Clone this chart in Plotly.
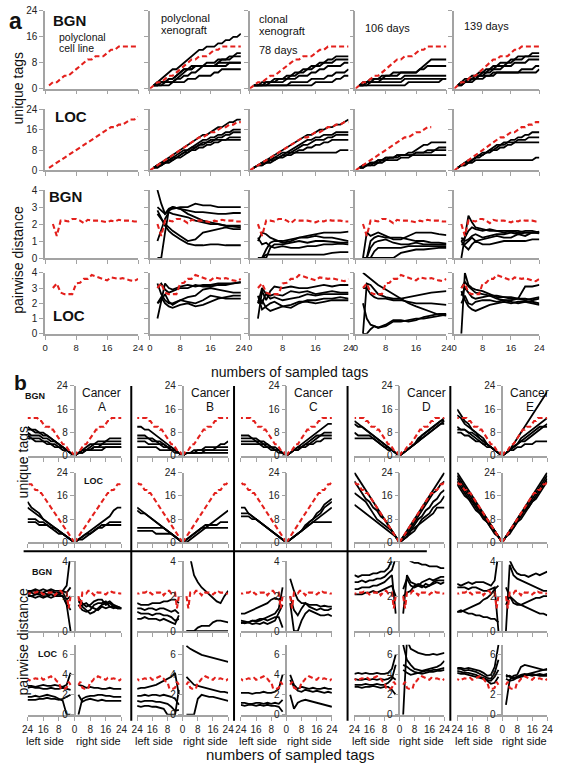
import plotly.graph_objects as go

W, H = 563, 769
FONT = "Liberation Sans, Arial, sans-serif"
GRAY = "#a3a3a3"
RED = "#e3201c"
BLACK = "#000000"

# ---------------- x values / ticks ----------------
TAGS = [1, 2, 3, 4, 5, 6, 7, 8, 9, 10, 11, 12, 13, 14, 15, 16, 17, 18, 19, 20, 21, 22, 23, 24]
TAGS0 = [0, 1, 2, 3, 4, 5, 6, 7, 8, 9, 10, 11, 12, 13, 14, 15, 16, 17, 18, 19, 20, 21, 22, 23, 24]
DIST_X = [2, 3, 4, 5, 6, 7, 8, 9, 10, 11, 12, 13, 14, 15, 16, 17, 18, 19, 20, 21, 22, 23, 24]
DIST_X_A = [2, 3, 4, 5, 6, 8, 10, 12, 14, 16, 18, 20, 22, 24]
TAGS_B = [0, 2, 4, 6, 8, 10, 12, 14, 16, 18, 20, 22, 24]
DIST_X_B = [2, 4, 6, 8, 10, 12, 14, 16, 18, 20, 22, 24]

X_TICKS_A = [0, 8, 16, 24]
X_TICKTEXT_A = ["0", "8", "16", "24"]
X_TICKS_B = [-24, -16, -8, 0, 8, 16, 24]
X_TICKTEXT_B = ["24", "16", "8", "0", "8", "16", "24"]
UNIQ_TICKS = [0, 8, 16, 24]
DIST_TICKS_A = [0, 1, 2, 3, 4]
DIST_TICKS_B_BGN = [0, 2, 4]
DIST_TICKS_B_LOC = [0, 2, 4, 6]
B_CANCERS = ["A", "B", "C", "D", "E"]

# ---------------- reference (polyclonal cell line, red) ----------------
RED_BGN_UNIQ = [0, 1, 2, 2, 3, 4, 4, 5, 6, 7, 8, 9, 9, 10, 10, 10, 11, 12, 12, 13, 13, 13, 13, 13, 13]
RED_LOC_UNIQ = [0, 1, 2, 3, 4, 5, 6, 7, 8, 9, 10, 11, 12, 13, 14, 15, 16, 17, 17, 18, 18, 19, 20, 20, 21]
RED_LOC_UNIQ_XENO = [0, 1, 2, 3, 4, 5, 6, 7, 8, 9, 10, 11, 12, 13, 13, 14, 15, 15, 16, 17, 17, 18, 18, 19, 19]
RED_LOC_106_LAST = 20
RED_BGN_DIST = [2.0, 1.3, 2.2, 2.2, 2.15, 2.3, 2.3, 2.2, 2.05, 2.25, 2.2, 2.2, 2.2, 2.15, 2.1, 2.2, 2.15,
                2.25, 2.2, 2.2, 2.2, 2.15, 2.15]
RED_LOC_DIST = [3.0, 3.3, 2.7, 2.6, 2.6, 2.6, 3.3, 3.35, 3.6, 3.6, 3.85, 3.75, 3.7, 3.6, 3.5, 3.7, 3.65,
                3.6, 3.65, 3.55, 3.5, 3.45, 3.6]

# ---------------- panel a: unique tags, BGN ----------------
A_BGN_U_POLYX = [
    [1, 2, 3, 4, 5, 6, 6, 7, 8, 9, 10, 11, 12, 12, 13, 13, 13, 14, 14, 15, 15, 16, 16, 17],
    [1, 1, 2, 2, 3, 3, 4, 5, 6, 6, 7, 7, 7, 7, 8, 8, 8, 9, 9, 9, 10, 10, 11, 11],
    [1, 1, 1, 2, 2, 2, 3, 4, 5, 6, 6, 7, 7, 7, 7, 7, 7, 8, 9, 9, 9, 10, 10, 10],
    [1, 2, 2, 2, 3, 3, 4, 5, 6, 6, 6, 7, 7, 7, 7, 7, 7, 8, 8, 8, 8, 8, 8, 8],
    [1, 1, 1, 1, 1, 2, 2, 2, 2, 3, 3, 3, 4, 4, 4, 4, 5, 5, 6, 6, 6, 6, 6, 6],
    [1, 1, 2, 2, 2, 2, 3, 3, 4, 4, 5, 5, 6, 7, 7, 7, 7, 7, 7, 7, 8, 8, 8, 8],
]
A_BGN_U_D78 = [
    [1, 1, 2, 2, 2, 3, 3, 3, 4, 4, 5, 5, 6, 6, 7, 7, 8, 8, 9, 9, 10, 10, 10, 10],
    [1, 1, 1, 2, 2, 2, 3, 3, 3, 4, 4, 5, 5, 6, 6, 7, 7, 8, 8, 8, 9, 9, 9, 9],
    [1, 1, 1, 1, 2, 2, 2, 2, 3, 3, 3, 4, 4, 4, 5, 5, 6, 6, 7, 7, 7, 7, 8, 8],
    [1, 1, 1, 1, 1, 1, 1, 1, 1, 2, 2, 2, 2, 2, 3, 3, 3, 3, 4, 4, 5, 5, 5, 6],
    [1, 1, 1, 1, 1, 1, 1, 1, 1, 1, 1, 1, 1, 1, 1, 2, 2, 2, 2, 2, 3, 3, 4, 4],
]
A_BGN_U_D106 = [
    [1, 1, 2, 2, 3, 3, 4, 4, 4, 5, 5, 5, 5, 5, 5, 5, 6, 7, 8, 9, 9, 9, 9, 9],
    [1, 2, 2, 3, 3, 3, 3, 4, 4, 4, 4, 5, 5, 5, 5, 5, 6, 6, 7, 7, 7, 7, 7, 7],
    [1, 1, 1, 2, 2, 2, 3, 3, 3, 3, 3, 3, 4, 4, 4, 4, 4, 4, 4, 4, 4, 4, 4, 4],
    [1, 1, 2, 2, 2, 2, 2, 2, 2, 2, 2, 2, 3, 3, 3, 3, 3, 3, 3, 3, 3, 3, 3, 3],
    [1, 1, 1, 1, 1, 1, 1, 1, 1, 1, 1, 1, 1, 2, 2, 2, 2, 2, 2, 2, 2, 2, 3, 3],
]
A_BGN_U_D139 = [
    [1, 2, 3, 3, 4, 4, 5, 5, 6, 6, 7, 7, 8, 8, 8, 9, 9, 10, 10, 10, 10, 11, 11, 11],
    [1, 2, 2, 3, 3, 4, 4, 5, 5, 6, 6, 7, 7, 7, 8, 8, 9, 9, 9, 10, 10, 10, 10, 10],
    [1, 2, 2, 3, 3, 3, 4, 4, 5, 5, 6, 6, 6, 7, 7, 7, 8, 8, 8, 8, 9, 9, 9, 9],
    [1, 1, 2, 2, 3, 3, 4, 4, 4, 4, 5, 5, 5, 5, 5, 5, 5, 5, 6, 6, 6, 6, 7, 7],
    [1, 1, 2, 2, 2, 3, 3, 3, 4, 4, 4, 5, 5, 5, 5, 5, 5, 5, 5, 5, 5, 5, 5, 6],
]

# ---------------- panel a: unique tags, LOC ----------------
A_LOC_U_POLYX = [
    [1, 2, 3, 4, 5, 6, 7, 8, 9, 10, 11, 12, 13, 14, 14, 15, 16, 17, 17, 18, 19, 19, 20, 20],
    [1, 2, 3, 3, 4, 5, 6, 7, 8, 8, 9, 10, 11, 12, 12, 13, 13, 14, 14, 15, 15, 16, 16, 16],
    [1, 2, 2, 3, 4, 5, 5, 6, 7, 8, 9, 9, 10, 11, 11, 12, 12, 13, 13, 14, 14, 15, 15, 15],
    [1, 2, 2, 3, 4, 4, 5, 6, 7, 7, 8, 9, 10, 10, 11, 11, 12, 12, 12, 12, 13, 13, 13, 13],
    [1, 1, 2, 3, 3, 4, 5, 5, 6, 7, 8, 8, 9, 9, 10, 10, 11, 11, 12, 12, 12, 12, 12, 12],
]
A_LOC_U_D78 = [
    [1, 2, 3, 4, 5, 6, 7, 8, 9, 10, 11, 12, 13, 14, 14, 15, 16, 16, 17, 17, 18, 18, 19, 20],
    [1, 2, 3, 4, 4, 5, 6, 7, 7, 8, 9, 10, 11, 12, 12, 13, 13, 14, 14, 14, 15, 15, 15, 15],
    [1, 2, 3, 3, 4, 5, 5, 6, 7, 7, 8, 9, 10, 10, 11, 12, 12, 12, 13, 13, 14, 14, 14, 14],
    [1, 2, 2, 3, 4, 4, 5, 6, 6, 7, 7, 8, 8, 9, 9, 10, 10, 11, 11, 12, 12, 12, 12, 12],
    [1, 2, 2, 3, 3, 4, 5, 5, 6, 6, 7, 7, 7, 7, 7, 7, 7, 7, 7, 7, 7, 8, 8, 8],
]
A_LOC_U_D106 = [
    [1, 2, 2, 3, 3, 4, 4, 5, 5, 5, 6, 6, 6, 7, 7, 8, 9, 10, 10, 11, 11, 11, 11, 11],
    [1, 1, 2, 2, 3, 4, 4, 5, 5, 5, 5, 6, 6, 6, 6, 7, 7, 7, 8, 8, 8, 9, 9, 9],
    [1, 2, 2, 3, 3, 3, 4, 4, 5, 5, 6, 6, 6, 6, 6, 7, 7, 7, 7, 7, 8, 8, 8, 8],
    [1, 1, 2, 2, 2, 3, 3, 4, 4, 4, 4, 5, 5, 5, 6, 6, 6, 6, 6, 6, 6, 6, 6, 6],
]
A_LOC_U_D139 = [
    [1, 2, 3, 4, 4, 5, 6, 7, 7, 8, 9, 10, 10, 11, 11, 12, 12, 13, 13, 14, 14, 15, 15, 15],
    [1, 2, 3, 3, 4, 5, 6, 6, 7, 8, 8, 9, 10, 10, 11, 11, 11, 12, 12, 12, 13, 13, 13, 13],
    [1, 2, 2, 3, 4, 5, 5, 6, 7, 7, 8, 8, 9, 9, 10, 10, 11, 11, 11, 11, 11, 11, 11, 11],
    [1, 2, 2, 3, 3, 4, 4, 4, 4, 4, 4, 4, 4, 4, 4, 4, 4, 4, 4, 4, 4, 4, 5, 5],
]

# ---------------- panel a: pairwise distance, BGN (x = DIST_X_A) ----------------
A_BGN_D_POLYX = [
    [4.0, 3.2, 2.6, 2.8, 2.9, 3.0, 3.0, 3.2, 3.1, 3.1, 3.0, 3.0, 3.0, 3.0],
    [3.0, 2.8, 2.6, 2.9, 3.0, 2.9, 2.8, 2.7, 2.7, 2.65, 2.6, 2.6, 2.65, 2.65],
    [0.0, 0.0, 1.5, 2.8, 3.0, 2.9, 2.6, 2.4, 2.2, 2.1, 2.0, 1.9, 1.85, 1.8],
    [2.8, 2.3, 1.9, 1.6, 1.4, 1.1, 0.85, 0.75, 0.75, 0.8, 0.8, 0.75, 0.75, 0.75],
    [2.6, 2.3, 2.0, 1.8, 1.6, 1.3, 1.0, 1.1, 1.5, 1.6, 1.7, 1.8, 1.7, 1.7],
    [1.0, 1.7, 2.3, 2.7, 2.6, 2.5, 2.4, 2.2, 2.1, 2.0, 2.0, 1.9, 1.9, 1.9],
]
A_BGN_D_D78 = [
    [1.0, 1.5, 1.4, 1.2, 1.1, 0.9, 1.0, 1.2, 1.3, 1.4, 1.5, 1.5, 1.5, 1.55],
    [0.0, 0.0, 0.5, 0.9, 1.0, 1.0, 1.1, 1.2, 1.2, 1.3, 1.2, 1.2, 1.1, 1.0],
    [0.0, 0.0, 0.0, 0.6, 0.8, 0.8, 0.9, 1.0, 0.9, 1.0, 1.0, 0.95, 0.9, 0.9],
    [1.2, 0.8, 0.9, 0.7, 0.6, 0.7, 0.6, 0.6, 0.7, 0.7, 0.8, 0.8, 0.85, 0.8],
    [0.0, 0.0, 0.2, 0.2, 0.2, 0.2, 0.2, 0.2, 0.2, 0.2, 0.2, 0.3, 0.35, 0.35],
]
A_BGN_D_D106 = [
    [0.0, 1.5, 1.3, 1.4, 1.5, 1.3, 1.1, 1.1, 1.3, 1.5, 1.5, 1.5, 1.4, 1.35],
    [0.0, 0.0, 1.0, 1.2, 1.3, 1.2, 1.2, 1.2, 1.1, 1.0, 1.0, 0.9, 0.9, 0.85],
    [0.0, 0.0, 0.6, 0.9, 1.0, 1.1, 0.9, 0.8, 0.8, 0.9, 0.8, 0.8, 0.8, 0.8],
    [0.0, 0.0, 0.0, 0.4, 0.6, 0.6, 0.6, 0.6, 0.7, 0.7, 0.7, 0.7, 0.7, 0.7],
    [0.0, 0.0, 0.0, 0.0, 0.0, 0.0, 0.0, 0.3, 0.4, 0.5, 0.5, 0.55, 0.6, 0.6],
]
A_BGN_D_D139 = [
    [0.0, 1.2, 2.5, 2.1, 1.8, 1.7, 1.6, 1.6, 1.6, 1.6, 1.5, 1.6, 1.6, 1.5],
    [1.0, 1.2, 1.6, 1.8, 1.7, 1.6, 1.7, 1.6, 1.5, 1.6, 1.6, 1.5, 1.5, 1.55],
    [1.2, 1.0, 1.1, 1.3, 1.4, 1.2, 1.3, 1.4, 1.4, 1.5, 1.4, 1.5, 1.5, 1.5],
    [0.8, 0.8, 1.0, 1.2, 1.0, 1.1, 1.2, 1.3, 1.2, 1.2, 1.4, 1.3, 1.5, 1.45],
    [1.0, 0.7, 0.5, 0.8, 1.0, 0.8, 0.8, 0.9, 1.0, 1.0, 1.0, 1.0, 1.1, 1.1],
]

# ---------------- panel a: pairwise distance, LOC (x = DIST_X_A) ----------------
A_LOC_D_POLYX = [
    [1.0, 2.2, 3.3, 3.0, 2.9, 3.1, 3.2, 3.1, 3.2, 3.2, 3.3, 3.3, 3.3, 3.4],
    [3.0, 3.3, 2.9, 2.7, 2.8, 3.0, 3.0, 3.2, 3.1, 3.1, 3.2, 3.2, 3.3, 3.35],
    [2.0, 2.2, 2.6, 2.1, 1.9, 2.2, 2.4, 2.5, 2.9, 3.0, 2.9, 2.8, 2.7, 2.7],
    [2.0, 2.4, 2.0, 1.8, 1.7, 1.9, 2.0, 1.8, 1.9, 2.1, 2.3, 2.4, 2.5, 2.5],
    [3.3, 2.6, 2.2, 2.0, 2.0, 2.2, 2.1, 2.0, 2.2, 2.5, 2.4, 2.3, 2.3, 2.3],
]
A_LOC_D_D78 = [
    [1.0, 2.8, 2.2, 2.8, 3.1, 3.0, 3.1, 3.0, 3.0, 3.1, 3.2, 3.1, 3.2, 3.2],
    [2.2, 2.0, 2.7, 2.5, 2.6, 2.5, 2.8, 2.7, 2.8, 2.6, 2.7, 2.8, 2.7, 2.7],
    [2.0, 3.0, 2.6, 2.3, 2.4, 2.2, 2.3, 2.4, 2.6, 2.5, 2.6, 2.6, 2.6, 2.6],
    [2.5, 1.6, 1.8, 2.0, 2.1, 1.8, 1.7, 2.0, 2.2, 2.2, 2.3, 2.3, 2.4, 2.3],
    [2.0, 2.2, 1.7, 1.5, 1.6, 1.8, 1.9, 2.1, 2.1, 2.0, 2.1, 2.2, 2.2, 2.2],
]
A_LOC_D_D106 = [
    [4.0, 3.8, 3.6, 3.4, 3.2, 2.9, 2.6, 2.3, 2.0, 1.8, 1.6, 1.4, 1.25, 1.2],
    [0.0, 3.3, 3.2, 2.9, 2.6, 2.4, 2.3, 2.3, 2.4, 2.5, 2.6, 2.7, 2.75, 2.8],
    [3.0, 3.0, 2.6, 2.4, 2.3, 2.3, 2.2, 2.2, 2.1, 2.0, 2.0, 2.0, 1.95, 1.9],
    [2.0, 1.0, 0.6, 0.5, 0.4, 0.5, 0.8, 0.8, 0.9, 1.0, 1.0, 1.1, 1.2, 1.25],
    [0.0, 0.0, 0.3, 0.5, 0.4, 0.6, 0.9, 0.9, 0.8, 0.9, 1.1, 1.2, 1.3, 1.3],
]
A_LOC_D_D139 = [
    [0.0, 4.0, 3.2, 3.0, 2.9, 2.8, 2.6, 2.4, 2.4, 2.3, 2.3, 3.1, 3.1, 3.2],
    [3.0, 3.4, 3.1, 2.9, 2.7, 2.6, 2.5, 2.5, 2.4, 2.4, 2.3, 2.2, 2.3, 2.4],
    [2.5, 3.0, 2.7, 2.4, 2.3, 2.4, 2.5, 2.3, 2.2, 2.2, 2.3, 2.3, 2.2, 2.3],
    [2.0, 2.5, 2.0, 1.9, 2.1, 2.2, 2.2, 2.1, 2.2, 2.1, 2.0, 2.1, 2.1, 2.0],
    [2.8, 2.2, 1.8, 1.6, 1.5, 1.7, 1.9, 2.0, 2.1, 2.0, 2.1, 2.1, 2.0, 1.9],
]

# ---------------- panel b: unique tags, BGN (x = TAGS_B) ----------------
B_BGN_U_A_LEFT = [[0, 1, 2, 3, 4, 5, 6, 7, 8, 8, 9, 9, 10], [0, 1, 2, 3, 4, 5, 6, 7, 7, 8, 8, 9, 9],
                  [0, 1, 2, 3, 4, 5, 5, 6, 6, 7, 7, 7, 8], [0, 1, 2, 3, 3, 4, 4, 5, 5, 6, 6, 6, 7],
                  [0, 1, 2, 2, 3, 3, 4, 4, 5, 5, 5, 6, 6]]
B_BGN_U_A_RIGHT = [[0, 1, 2, 3, 4, 4, 5, 5, 5, 6, 6, 6, 6], [0, 1, 2, 2, 3, 4, 4, 4, 5, 5, 5, 5, 5],
                   [0, 1, 2, 2, 2, 3, 3, 4, 4, 4, 4, 4, 4], [0, 1, 1, 2, 2, 3, 3, 3, 3, 3, 3, 3, 3],
                   [0, 1, 1, 2, 2, 2, 2, 2, 3, 3, 3, 3, 3]]
B_BGN_U_B_LEFT = [[0, 1, 2, 3, 4, 5, 6, 7, 8, 9, 9, 10, 10], [0, 1, 2, 3, 3, 4, 5, 5, 6, 6, 7, 7, 7],
                  [0, 1, 2, 2, 3, 4, 4, 5, 5, 6, 6, 6, 6], [0, 1, 2, 2, 3, 3, 4, 4, 4, 4, 5, 5, 5],
                  [0, 1, 1, 2, 2, 2, 2, 3, 3, 3, 3, 3, 3]]
B_BGN_U_B_RIGHT = [[0, 1, 1, 2, 2, 2, 3, 3, 3, 3, 4, 4, 5], [0, 1, 1, 1, 2, 2, 2, 2, 2, 3, 3, 3, 3],
                   [0, 1, 1, 1, 1, 1, 1, 1, 1, 1, 1, 1, 1], [0, 1, 1, 1, 1, 1, 2, 2, 2, 2, 2, 2, 2]]
B_BGN_U_C_LEFT = [[0, 1, 2, 3, 3, 4, 5, 5, 6, 6, 7, 7, 7], [0, 1, 2, 2, 3, 4, 4, 5, 5, 6, 6, 6, 6],
                  [0, 1, 2, 2, 3, 3, 4, 4, 5, 5, 5, 5, 5], [0, 1, 1, 2, 2, 3, 3, 4, 4, 4, 4, 4, 4]]
B_BGN_U_C_RIGHT = [[0, 1, 2, 3, 4, 5, 6, 7, 8, 9, 10, 11, 11], [0, 1, 2, 3, 3, 4, 5, 6, 7, 7, 8, 8, 8],
                   [0, 1, 2, 2, 3, 4, 4, 5, 6, 7, 7, 7, 7], [0, 1, 2, 2, 3, 3, 4, 4, 5, 5, 6, 6, 6]]
B_BGN_U_D_LEFT = [[0, 1, 2, 3, 4, 5, 6, 7, 8, 9, 10, 11, 12], [0, 1, 2, 3, 4, 5, 6, 7, 8, 9, 10, 10, 11],
                  [0, 1, 2, 3, 3, 4, 5, 6, 7, 7, 7, 7, 8], [0, 1, 2, 2, 3, 4, 5, 6, 6, 6, 6, 6, 6]]
B_BGN_U_D_RIGHT = [[0, 1, 2, 3, 4, 6, 7, 8, 9, 10, 11, 12, 13], [0, 1, 2, 3, 4, 5, 7, 8, 9, 10, 11, 12, 12],
                   [0, 1, 2, 3, 4, 5, 6, 7, 8, 9, 10, 11, 12], [0, 1, 2, 3, 4, 5, 6, 7, 8, 9, 10, 11, 11]]
B_BGN_U_E_LEFT = [[0, 1, 2, 3, 4, 6, 7, 8, 9, 11, 12, 14, 16], [0, 1, 2, 3, 4, 5, 6, 8, 9, 10, 11, 13, 14],
                  [0, 1, 2, 3, 4, 5, 6, 7, 8, 8, 9, 9, 10], [0, 1, 2, 3, 4, 4, 5, 6, 7, 8, 9, 9, 9],
                  [0, 1, 2, 3, 3, 4, 5, 5, 6, 7, 7, 8, 8]]
B_BGN_U_E_RIGHT = [[0, 1, 2, 4, 6, 8, 10, 12, 14, 16, 18, 20, 22], [0, 1, 2, 3, 4, 6, 7, 8, 9, 10, 11, 12, 13],
                   [0, 1, 2, 3, 4, 5, 6, 7, 8, 9, 10, 10, 11], [0, 1, 2, 3, 4, 5, 5, 6, 7, 8, 9, 10, 10],
                   [0, 1, 2, 2, 3, 3, 4, 4, 4, 5, 5, 5, 5]]

# ---------------- panel b: unique tags, LOC (x = TAGS_B) ----------------
B_LOC_U_A_LEFT = [[0, 1, 2, 3, 4, 5, 6, 7, 8, 10, 11, 12, 14], [0, 1, 2, 3, 4, 5, 6, 7, 8, 9, 10, 11, 12],
                  [0, 1, 2, 3, 4, 5, 5, 6, 7, 7, 8, 8, 8], [0, 1, 2, 3, 3, 4, 5, 6, 6, 6, 7, 7, 7]]
B_LOC_U_A_RIGHT = [[0, 1, 2, 3, 4, 5, 6, 7, 8, 9, 11, 12, 12], [0, 1, 2, 3, 3, 4, 5, 5, 6, 7, 7, 7, 7],
                   [0, 1, 1, 2, 3, 4, 5, 6, 6, 6, 6, 6, 6]]
B_LOC_U_B_LEFT = [[0, 1, 2, 3, 4, 5, 6, 7, 8, 9, 10, 11, 12], [0, 1, 2, 3, 4, 5, 6, 7, 8, 9, 10, 10, 11],
                  [0, 1, 2, 3, 4, 5, 5, 5, 5, 5, 5, 5, 5], [0, 1, 2, 3, 3, 3, 3, 3, 4, 4, 4, 4, 4]]
B_LOC_U_B_RIGHT = [[0, 0, 1, 2, 3, 4, 5, 6, 7, 8, 9, 10, 11], [0, 1, 2, 3, 4, 5, 6, 6, 6, 6, 7, 7, 7],
                   [0, 1, 2, 3, 4, 5, 5, 5, 5, 5, 5, 5, 5]]
B_LOC_U_C_LEFT = [[0, 1, 2, 3, 4, 5, 6, 7, 8, 9, 10, 12, 12], [0, 1, 2, 3, 4, 5, 6, 7, 8, 9, 10, 10, 10],
                  [0, 1, 2, 3, 4, 5, 6, 7, 8, 8, 9, 9, 9]]
B_LOC_U_C_RIGHT = [[0, 1, 2, 3, 4, 6, 7, 8, 10, 11, 13, 14, 15], [0, 1, 2, 3, 4, 5, 7, 8, 9, 10, 12, 13, 14],
                   [0, 1, 2, 3, 4, 5, 6, 7, 8, 9, 10, 11, 12], [0, 1, 2, 3, 4, 5, 6, 7, 7, 7, 7, 7, 7]]
B_LOC_U_D_LEFT = [[0, 2, 4, 6, 8, 10, 12, 14, 16, 18, 20, 22, 24], [0, 2, 4, 6, 8, 9, 11, 12, 14, 15, 17, 19, 21],
                  [0, 2, 4, 5, 6, 7, 8, 10, 12, 14, 15, 16, 17], [0, 2, 3, 4, 5, 6, 7, 8, 9, 10, 11, 12, 13]]
B_LOC_U_D_RIGHT = [[0, 2, 4, 6, 8, 10, 12, 14, 16, 18, 20, 22, 24], [0, 2, 3, 5, 7, 9, 11, 13, 15, 17, 18, 20, 21],
                   [0, 1, 2, 4, 6, 8, 9, 11, 12, 14, 15, 17, 18], [0, 1, 2, 4, 5, 6, 8, 9, 10, 12, 13, 14, 16],
                   [0, 1, 2, 3, 4, 6, 7, 8, 9, 10, 12, 12, 12]]
B_LOC_U_E_LEFT = [[0, 2, 4, 6, 8, 10, 12, 14, 16, 18, 20, 22, 24], [0, 2, 4, 6, 8, 10, 11, 13, 15, 17, 19, 21, 23],
                  [0, 2, 4, 6, 7, 9, 11, 13, 14, 16, 18, 20, 22], [0, 2, 4, 5, 7, 9, 10, 12, 14, 15, 17, 19, 21],
                  [0, 2, 3, 5, 7, 8, 10, 11, 13, 15, 16, 18, 20]]
B_LOC_U_E_RIGHT = [[0, 2, 4, 6, 8, 10, 12, 14, 16, 18, 20, 22, 24], [0, 2, 4, 6, 8, 10, 11, 13, 15, 17, 19, 21, 23],
                   [0, 2, 4, 5, 7, 9, 11, 12, 14, 16, 18, 20, 22], [0, 2, 3, 5, 7, 8, 10, 12, 14, 15, 17, 19, 21]]

# ---------------- panel b: pairwise distance, BGN (x = DIST_X_B) ----------------
B_BGN_D_A_LEFT = [[4.5, 2.6, 2.3, 2.3, 2.3, 2.4, 2.3, 2.4, 2.3, 2.4, 2.3, 2.3],
                  [0.0, 1.5, 2.0, 2.1, 2.2, 2.2, 2.1, 2.2, 2.2, 2.1, 2.2, 2.2],
                  [1.2, 1.6, 2.0, 2.0, 2.0, 2.1, 2.0, 2.0, 2.1, 2.1, 2.0, 2.1],
                  [2.0, 1.8, 2.2, 2.1, 2.0, 1.9, 2.0, 1.9, 2.0, 1.9, 2.0, 2.0],
                  [2.5, 2.2, 2.3, 2.2, 2.2, 2.3, 2.3, 2.2, 2.2, 2.3, 2.3, 2.2]]
B_BGN_D_A_RIGHT = [[1.9, 1.6, 1.4, 1.5, 1.7, 1.8, 1.8, 1.5, 1.6, 1.4, 1.3, 1.3],
                   [1.5, 1.2, 1.1, 1.2, 1.5, 1.6, 1.6, 1.7, 1.4, 1.4, 1.3, 1.3],
                   [1.8, 1.4, 1.2, 1.0, 1.1, 1.3, 1.5, 1.6, 1.7, 1.5, 1.4, 1.3],
                   [1.7, 1.5, 1.6, 1.4, 1.3, 1.2, 1.4, 1.3, 1.4, 1.3, 1.4, 1.3]]
B_BGN_D_B_LEFT = [[1.6, 1.8, 1.8, 1.7, 1.7, 1.6, 1.6, 1.6, 1.5, 1.5, 1.5, 1.6],
                  [1.0, 1.2, 1.1, 1.2, 1.3, 1.3, 1.2, 1.3, 1.3, 1.2, 1.3, 1.3],
                  [0.7, 0.6, 0.8, 0.9, 0.9, 1.0, 1.0, 0.9, 1.0, 1.0, 1.0, 1.1],
                  [0.9, 0.4, 0.5, 0.6, 0.7, 0.6, 0.7, 0.7, 0.7, 0.8, 0.7, 0.7]]
B_BGN_D_B_RIGHT = [[6.0, 4.2, 3.2, 2.8, 2.5, 2.3, 2.1, 1.9, 1.7, 1.6, 2.0, 2.3],
                   [0.0, 0.0, 0.0, 0.2, 0.3, 0.3, 0.3, 0.5, 0.6, 0.6, 0.55, 0.5],
                   [0.0, 0.0, 0.0, 0.0, 0.0, 0.0, 0.0, 0.0, 0.0, 0.0, 0.0, 0.0]]
B_BGN_D_C_LEFT = [[2.0, 1.8, 1.9, 1.8, 1.6, 1.5, 1.4, 1.3, 1.2, 1.1, 1.0, 1.0],
                  [2.5, 1.3, 1.0, 0.9, 0.8, 0.7, 0.7, 0.6, 0.6, 0.5, 0.55, 0.6],
                  [1.5, 1.0, 0.6, 0.5, 0.4, 0.5, 0.4, 0.45, 0.4, 0.5, 0.45, 0.5],
                  [0.2, 0.8, 0.8, 0.7, 0.6, 0.7, 0.6, 0.55, 0.6, 0.5, 0.5, 0.45]]
B_BGN_D_C_RIGHT = [[3.0, 2.3, 1.8, 1.6, 1.6, 1.5, 1.5, 1.5, 1.4, 1.45, 1.4, 1.4],
                   [1.6, 0.0, 0.0, 0.6, 1.0, 1.2, 1.1, 1.0, 0.9, 0.9, 0.95, 0.85],
                   [2.0, 1.2, 0.9, 1.3, 1.6, 1.4, 1.3, 1.2, 1.3, 1.2, 1.2, 1.3]]
B_BGN_D_D_LEFT = [[4.5, 4.0, 3.6, 3.4, 3.4, 3.3, 3.3, 3.2, 3.2, 3.2, 3.1, 3.2],
                  [4.2, 3.5, 3.3, 3.1, 3.0, 3.0, 2.9, 2.9, 2.8, 2.9, 2.8, 2.8],
                  [1.0, 3.2, 3.0, 2.8, 2.7, 2.6, 2.6, 2.5, 2.5, 2.5, 2.4, 2.4],
                  [2.0, 2.6, 2.5, 2.4, 2.3, 2.2, 2.3, 2.2, 2.2, 2.1, 2.1, 2.1]]
B_BGN_D_D_RIGHT = [[4.5, 4.2, 4.0, 3.9, 3.9, 3.8, 3.8, 3.7, 3.7, 3.7, 3.6, 3.6],
                   [1.0, 3.2, 2.8, 2.7, 2.6, 2.8, 2.9, 3.0, 2.9, 3.0, 3.1, 3.1],
                   [2.4, 3.0, 2.6, 2.5, 2.6, 2.5, 2.7, 2.6, 2.8, 2.9, 2.9, 2.9],
                   [2.0, 2.2, 2.3, 2.6, 2.7, 2.6, 2.5, 2.6, 2.7, 2.8, 2.7, 2.8]]
B_BGN_D_E_LEFT = [[4.5, 2.9, 2.6, 2.7, 2.8, 2.8, 2.8, 2.7, 2.8, 2.7, 2.6, 2.7],
                  [0.0, 2.5, 2.4, 2.3, 2.3, 2.4, 2.5, 2.5, 2.4, 2.5, 2.5, 2.5],
                  [2.6, 2.4, 2.1, 1.9, 1.8, 1.6, 1.5, 1.4, 1.3, 1.2, 1.1, 1.1],
                  [0.5, 0.7, 0.7, 0.8, 0.8, 0.9, 0.9, 1.0, 1.0, 1.1, 1.2, 1.1]]
B_BGN_D_E_RIGHT = [[4.5, 4.0, 3.6, 3.3, 3.2, 3.2, 3.1, 3.2, 3.3, 3.2, 3.3, 3.4],
                   [0.0, 3.8, 3.2, 3.0, 2.9, 2.8, 2.7, 2.6, 2.5, 2.4, 2.3, 2.3],
                   [1.5, 2.0, 1.6, 1.5, 1.5, 1.6, 1.7, 1.8, 1.9, 1.9, 2.0, 2.0],
                   [2.5, 2.0, 1.8, 1.6, 1.5, 1.4, 1.3, 1.2, 1.1, 1.0, 1.0, 0.9]]

# ---------------- panel b: pairwise distance, LOC (x = DIST_X_B) ----------------
B_LOC_D_A_LEFT = [[4.2, 3.0, 2.8, 2.9, 3.0, 2.9, 2.9, 3.0, 2.9, 2.8, 2.9, 2.9],
                  [2.5, 2.6, 2.7, 2.6, 2.6, 2.7, 2.6, 2.6, 2.7, 2.7, 2.8, 2.7],
                  [0.0, 0.0, 1.4, 1.6, 1.8, 1.9, 2.0, 1.9, 1.8, 1.9, 1.8, 1.8],
                  [2.0, 1.8, 1.6, 1.5, 1.6, 1.6, 1.7, 1.6, 1.6, 1.5, 1.5, 1.5]]
B_LOC_D_A_RIGHT = [[3.0, 2.9, 2.7, 2.8, 2.7, 2.7, 2.6, 2.6, 2.7, 2.6, 2.6, 2.6],
                   [0.0, 1.6, 1.8, 1.9, 1.9, 2.0, 2.0, 1.9, 1.9, 1.8, 1.8, 1.8],
                   [2.0, 1.3, 1.5, 1.6, 1.5, 1.4, 1.5, 1.4, 1.4, 1.4, 1.4, 1.4]]
B_LOC_D_B_LEFT = [[2.0, 4.2, 3.8, 3.6, 3.4, 3.2, 3.0, 2.9, 2.8, 2.7, 2.7, 2.6],
                  [1.0, 1.6, 1.8, 1.9, 2.0, 1.9, 2.0, 2.0, 1.9, 2.0, 1.9, 1.9],
                  [0.5, 0.4, 0.8, 1.1, 1.2, 1.3, 1.3, 1.4, 1.4, 1.4, 1.3, 1.4],
                  [2.5, 0.0, 0.0, 0.0, 0.6, 0.7, 0.8, 0.8, 0.9, 0.9, 0.8, 0.9]]
B_LOC_D_B_RIGHT = [[6.9, 6.6, 6.4, 6.2, 6.0, 5.9, 5.8, 5.7, 5.6, 5.5, 5.4, 5.3],
                   [3.8, 3.4, 3.0, 2.9, 2.8, 2.7, 2.6, 2.5, 2.4, 2.3, 2.3, 2.2],
                   [0.0, 0.0, 0.0, 1.6, 2.0, 1.9, 1.8, 1.8, 1.7, 1.6, 1.5, 1.4]]
B_LOC_D_C_LEFT = [[4.0, 2.6, 2.3, 2.2, 2.2, 2.3, 2.2, 2.2, 2.1, 2.2, 2.2, 2.2],
                  [1.5, 1.1, 1.2, 1.1, 1.2, 1.1, 1.2, 1.2, 1.1, 1.1, 1.2, 1.2],
                  [0.3, 0.8, 0.9, 0.9, 1.0, 0.9, 1.0, 0.9, 1.0, 1.0, 0.9, 1.0]]
B_LOC_D_C_RIGHT = [[4.0, 3.0, 2.6, 2.8, 2.7, 2.6, 2.7, 2.6, 2.6, 2.7, 2.6, 2.6],
                   [3.5, 2.8, 2.4, 2.3, 2.5, 2.4, 2.3, 2.4, 2.3, 2.2, 2.3, 2.2],
                   [2.0, 0.6, 1.2, 1.4, 1.5, 1.4, 1.3, 1.2, 1.1, 1.0, 0.9, 0.8]]
B_LOC_D_D_LEFT = [[6.0, 4.6, 4.2, 4.1, 4.1, 4.2, 4.1, 4.1, 4.2, 4.1, 4.2, 4.1],
                  [5.0, 3.6, 3.2, 3.0, 3.0, 3.1, 3.0, 3.0, 3.1, 3.0, 3.0, 3.0],
                  [2.0, 2.5, 2.8, 2.8, 2.7, 2.8, 2.9, 2.8, 2.8, 2.7, 2.8, 2.8],
                  [3.5, 3.8, 3.6, 3.5, 3.6, 3.5, 3.6, 3.5, 3.6, 3.5, 3.5, 3.6]]
B_LOC_D_D_RIGHT = [[0.0, 7.5, 6.6, 6.4, 6.2, 6.1, 6.0, 6.0, 6.1, 6.0, 6.1, 6.2],
                   [7.0, 5.5, 5.0, 4.6, 4.5, 4.4, 4.5, 4.6, 4.7, 4.8, 5.0, 5.4],
                   [5.0, 4.8, 4.5, 4.3, 4.2, 4.3, 4.4, 4.4, 4.5, 4.5, 4.6, 4.7],
                   [4.5, 4.2, 4.0, 4.1, 4.2, 4.1, 4.2, 4.3, 4.3, 4.4, 4.4, 4.5]]
B_LOC_D_E_LEFT = [[7.0, 4.8, 4.0, 3.9, 4.2, 4.4, 4.5, 4.6, 4.7, 4.6, 4.7, 4.7],
                  [5.5, 4.2, 3.6, 3.7, 3.9, 4.1, 4.3, 4.4, 4.5, 4.4, 4.6, 4.6],
                  [4.5, 3.8, 3.4, 3.5, 3.7, 3.8, 4.0, 4.1, 4.2, 4.2, 4.3, 4.4],
                  [3.8, 3.2, 3.1, 3.4, 3.6, 3.7, 3.8, 3.9, 4.0, 4.1, 4.1, 4.2]]
B_LOC_D_E_RIGHT = [[1.0, 3.5, 3.9, 4.0, 4.8, 5.0, 4.9, 4.8, 4.7, 4.6, 4.5, 4.6],
                   [3.8, 3.9, 3.7, 3.8, 3.9, 4.0, 4.1, 4.2, 4.3, 4.4, 4.5, 4.5],
                   [4.0, 3.8, 3.6, 3.8, 4.0, 4.1, 4.0, 4.1, 4.0, 4.1, 4.0, 4.1],
                   [3.6, 3.4, 3.5, 3.7, 3.8, 3.9, 4.0, 3.9, 4.0, 3.9, 3.9, 3.9]]

# ======================================================================
fig = go.Figure()
layout = {}
n_axes = [0]


def add_axes(xdom, ydom, xrange, yrange, xkw, ykw, y_free_at=None):
    n_axes[0] += 1
    s = "" if n_axes[0] == 1 else str(n_axes[0])
    base = dict(showgrid=False, zeroline=False, showline=True, linecolor=GRAY, linewidth=1.5,
                ticks="outside", ticklen=4, tickwidth=1.3, tickcolor=GRAY,
                tickfont=dict(size=10, color="#222", family=FONT), fixedrange=True)
    xa = dict(base, domain=[xdom[0] / W, xdom[1] / W], range=xrange, anchor="y" + s)
    xa.update(xkw)
    ya = dict(base, domain=[1 - ydom[1] / H, 1 - ydom[0] / H], range=yrange)
    if y_free_at is None:
        ya["anchor"] = "x" + s
    else:
        ya["anchor"] = "free"
        ya["position"] = y_free_at / W
    ya.update(ykw)
    layout["xaxis" + s] = xa
    layout["yaxis" + s] = ya
    return "x" + s, "y" + s


def line(xa, ya, xs, ys, red=False):
    fig.add_trace(go.Scatter(
        x=xs, y=ys, xaxis=xa, yaxis=ya, mode="lines", showlegend=False, hoverinfo="skip",
        line=dict(color=RED if red else BLACK, width=2.1 if red else 1.8,
                  dash="5px,3px" if red else "solid")))


# ---------------- panel a ----------------
A_COLS = [(40, 135), (147, 240), (249, 350), (357, 450), (458, 545)]
A_ROWS = [(5, 84), (105, 167), (187, 256), (271, 333)]

a_blacks = [
    [None, A_BGN_U_POLYX, A_BGN_U_D78, A_BGN_U_D106, A_BGN_U_D139],
    [None, A_LOC_U_POLYX, A_LOC_U_D78, A_LOC_U_D106, A_LOC_U_D139],
    [None, A_BGN_D_POLYX, A_BGN_D_D78, A_BGN_D_D106, A_BGN_D_D139],
    [None, A_LOC_D_POLYX, A_LOC_D_D78, A_LOC_D_D106, A_LOC_D_D139],
]

for r in range(4):
    for c in range(5):
        is_uniq = r < 2
        yr = [0, 24] if is_uniq else [0, 4]
        yt = UNIQ_TICKS if is_uniq else DIST_TICKS_A
        xa, ya = add_axes(A_COLS[c], A_ROWS[r], [0, 24], yr,
                          dict(tickvals=X_TICKS_A, ticktext=X_TICKTEXT_A, showticklabels=(r == 3),
                               tickfont=dict(size=9.5, color="#222", family=FONT)),
                          dict(tickvals=yt, showticklabels=(c == 0)))
        if c > 0:
            xs_black = TAGS if is_uniq else DIST_X_A
            for ys in a_blacks[r][c]:
                line(xa, ya, xs_black, ys)
        if r == 0:
            if c == 0:
                line(xa, ya, TAGS, RED_BGN_UNIQ[1:], red=True)
            else:
                line(xa, ya, TAGS0, RED_BGN_UNIQ, red=True)
        elif r == 1:
            if c == 0:
                line(xa, ya, TAGS, RED_LOC_UNIQ[1:], red=True)
            elif c == 3:
                line(xa, ya, TAGS0[:RED_LOC_106_LAST + 1], RED_LOC_UNIQ_XENO[:RED_LOC_106_LAST + 1], red=True)
            else:
                line(xa, ya, TAGS0, RED_LOC_UNIQ_XENO, red=True)
        elif r == 2:
            line(xa, ya, DIST_X, RED_BGN_DIST, red=True)
        else:
            line(xa, ya, DIST_X, RED_LOC_DIST, red=True)

# ---------------- panel b ----------------
B_COLS = [(22, 118), (134, 227), (240, 333), (356, 448), (461, 553)]
B_ROWS = [(386, 457), (474, 545), (564, 635), (649, 720)]

b_data = [
    [(B_BGN_U_A_LEFT, B_BGN_U_A_RIGHT), (B_BGN_U_B_LEFT, B_BGN_U_B_RIGHT), (B_BGN_U_C_LEFT, B_BGN_U_C_RIGHT),
     (B_BGN_U_D_LEFT, B_BGN_U_D_RIGHT), (B_BGN_U_E_LEFT, B_BGN_U_E_RIGHT)],
    [(B_LOC_U_A_LEFT, B_LOC_U_A_RIGHT), (B_LOC_U_B_LEFT, B_LOC_U_B_RIGHT), (B_LOC_U_C_LEFT, B_LOC_U_C_RIGHT),
     (B_LOC_U_D_LEFT, B_LOC_U_D_RIGHT), (B_LOC_U_E_LEFT, B_LOC_U_E_RIGHT)],
    [(B_BGN_D_A_LEFT, B_BGN_D_A_RIGHT), (B_BGN_D_B_LEFT, B_BGN_D_B_RIGHT), (B_BGN_D_C_LEFT, B_BGN_D_C_RIGHT),
     (B_BGN_D_D_LEFT, B_BGN_D_D_RIGHT), (B_BGN_D_E_LEFT, B_BGN_D_E_RIGHT)],
    [(B_LOC_D_A_LEFT, B_LOC_D_A_RIGHT), (B_LOC_D_B_LEFT, B_LOC_D_B_RIGHT), (B_LOC_D_C_LEFT, B_LOC_D_C_RIGHT),
     (B_LOC_D_D_LEFT, B_LOC_D_D_RIGHT), (B_LOC_D_E_LEFT, B_LOC_D_E_RIGHT)],
]
b_reds = [(TAGS0, RED_BGN_UNIQ), (TAGS0, RED_LOC_UNIQ), (DIST_X, RED_BGN_DIST), (DIST_X, RED_LOC_DIST)]
b_yr = [[0, 24], [0, 24], [0, 4], [0, 7]]
b_yt = [UNIQ_TICKS, UNIQ_TICKS, DIST_TICKS_B_BGN, DIST_TICKS_B_LOC]

for r in range(4):
    for c in range(5):
        x0, x1 = B_COLS[c]
        center = (x0 + x1) / 2
        xa, ya = add_axes(B_COLS[c], B_ROWS[r], [-24, 24], b_yr[r],
                          dict(tickvals=X_TICKS_B, ticktext=X_TICKTEXT_B, showticklabels=(r == 3)),
                          dict(tickvals=b_yt[r]), y_free_at=center)
        xs_b = TAGS_B if r < 2 else DIST_X_B
        left, right = b_data[r][c]
        for ys in left:
            line(xa, ya, [-v for v in xs_b], ys)
        for ys in right:
            line(xa, ya, xs_b, ys)
        rx, ry = b_reds[r]
        line(xa, ya, [-v for v in rx], ry, red=True)
        line(xa, ya, rx, ry, red=True)

# ---------------- text ----------------
annotations = []


def ann(text, x, y, size, bold=False, xanchor="center", angle=0, color="#111"):
    annotations.append(dict(
        text="<b>%s</b>" % text if bold else text, x=x / W, y=1 - y / H, xref="paper", yref="paper",
        showarrow=False, xanchor=xanchor, yanchor="middle", textangle=angle,
        font=dict(family=FONT, size=size, color=color)))


# panel a
ann("a", 10, 15, 23, bold=True)
ann("BGN", 65, 15, 15, bold=True)
ann("polyclonal", 52, 31, 10.5, xanchor="left")
ann("cell line", 52, 43, 10.5, xanchor="left")
ann("LOC", 66, 112, 15, bold=True)
ann("BGN", 61, 194, 15, bold=True)
ann("LOC", 64, 314, 15, bold=True)
ann("polyclonal", 156, 12, 11, xanchor="left")
ann("xenograft", 156, 24, 11, xanchor="left")
ann("clonal", 256, 13, 11, xanchor="left")
ann("xenograft", 256, 25, 11, xanchor="left")
ann("78 days", 256, 45, 11, xanchor="left")
ann("106 days", 365, 22, 11, xanchor="left")
ann("139 days", 466, 20, 11, xanchor="left")
ann("unique tags", 12, 84, 14, angle=-90)
ann("pairwise distance", 12, 258, 14, angle=-90)
ann("numbers of sampled tags", 290, 372, 14)

# panel b
ann("b", 15, 382, 21, bold=True)
ann("BGN", 30, 396, 9, bold=True)
ann("LOC", 89, 483, 9, bold=True)
ann("BGN", 37, 575, 9, bold=True)
ann("LOC", 42, 658, 9, bold=True)
for c in range(5):
    x0, x1 = B_COLS[c]
    center = (x0 + x1) / 2
    ann("Cancer", center + 28, 393, 12)
    ann(B_CANCERS[c], center + 28, 407, 12)
    ann("left side", x0 - 4, 747, 11, xanchor="left")
    ann("right side", x1 + 2, 747, 11, xanchor="right")
ann("unique tags", 17, 464, 14, angle=-90)
ann("pairwise distance", 17, 646, 14, angle=-90)
ann("numbers of sampled tags", 290, 760, 15)

# separators in panel b
shapes = []
for xs in [128, 233, 349, 454]:
    shapes.append(dict(type="line", xref="paper", yref="paper", x0=xs / W, x1=xs / W,
                       y0=1 - 386 / H, y1=1 - 726 / H, line=dict(color="black", width=2)))
shapes.append(dict(type="line", xref="paper", yref="paper", x0=18 / W, x1=430 / W,
                   y0=1 - 554 / H, y1=1 - 554 / H, line=dict(color="black", width=2)))

layout.update(dict(width=W, height=H, autosize=False, margin=dict(l=0, r=0, t=0, b=0),
                   paper_bgcolor="white", plot_bgcolor="white", showlegend=False,
                   annotations=annotations, shapes=shapes, font=dict(family=FONT)))
fig.update_layout(**layout)
fig.write_html("out.html", config={"displayModeBar": False},
               post_script="document.body.style.margin='0';document.body.style.overflow='hidden';")
